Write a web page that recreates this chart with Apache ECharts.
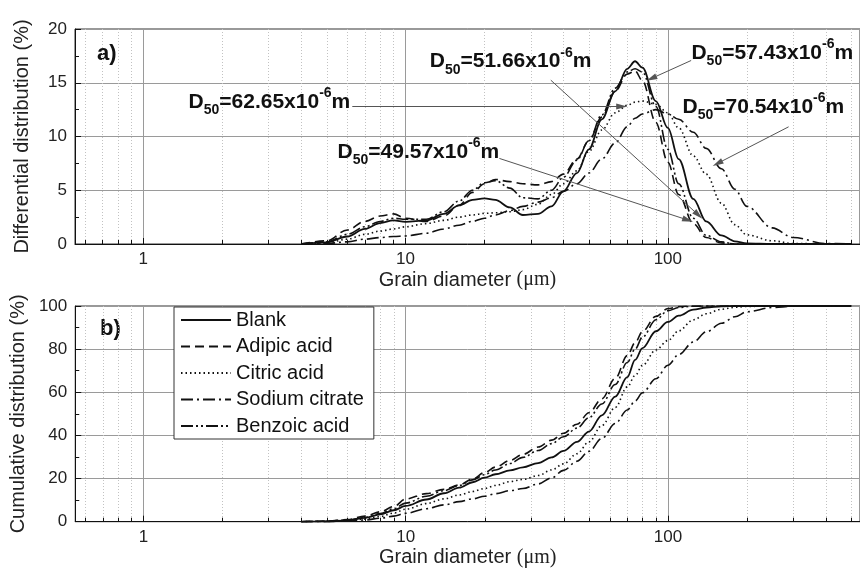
<!DOCTYPE html>
<html>
<head>
<meta charset="utf-8">
<script src="https://cdn.jsdelivr.net/npm/echarts@6/dist/echarts.min.js"></script>
<style>
html,body{margin:0;padding:0;background:#fff;}
#chart{width:860px;height:569px;}
</style>
</head>
<body>
<div id="chart"></div>
<script>
// ---------- DATA ----------
const seriesNames = ['Blank', 'Adipic acid', 'Citric acid', 'Sodium citrate', 'Benzoic acid'];

const diameters = [4,5,6,7,8,9,10, 12,14,16,18,20,22,25,28, 32,36,40,45,50,56,63,70, 75,80,90,100,110,125,140,160, 180,200,250,300,400,500];

// Differential distribution (%)
const blankDiff   = [0,0.15,0.7,1.4,1.95,2.2,2.05, 2.2,2.8,3.6,4.1,4.25,4.1,3.4,2.7, 2.8,3.5,4.9,6.6,8.8,11.6,14.2,16.3, 17.0,16.4,13.3,10.8,7.9,4.2,2.1,0.8, 0.25,0.05,0,0,0,0];
const adipicDiff  = [0,0.3,1.3,2.1,2.6,2.8,2.4, 2.1,2.6,3.6,4.8,5.6,6.0,5.8,5.6, 5.5,5.8,6.5,7.9,9.6,11.8,14.2,15.8, 16.1,15.2,11.3,7.6,4.6,1.9,0.6,0.1, 0,0,0,0,0,0];
const citricDiff  = [0,0.1,0.45,0.9,1.2,1.4,1.6, 1.9,2.2,2.5,2.7,2.85,2.9,3.0,3.2, 3.7,4.6,5.6,6.8,8.6,10.6,12.2,12.9, 13.2,13.3,13.0,12.2,10.8,8.2,6.5,3.8, 1.8,0.85,0.3,0.05,0,0];
const sodiumDiff  = [0,0.05,0.2,0.45,0.6,0.7,0.75, 1.0,1.4,1.75,2.1,2.4,2.7,3.1,3.5, 3.9,4.3,4.9,5.6,6.6,7.9,9.4,10.9, 11.7,12.1,12.5,12.1,11.6,10.4,8.9,7.0, 5.1,3.5,1.5,0.6,0.05,0];
const benzoicDiff = [0,0.2,0.9,1.6,2.1,2.4,2.3, 2.3,3.0,4.0,5.0,5.7,5.9,5.2,4.3, 4.2,5.0,6.2,7.8,9.6,12.0,14.5,16.0, 16.3,16.0,12.8,8.8,5.6,2.4,0.8,0.2, 0,0,0,0,0,0];

// Cumulative distribution (%)
const blankCum   = [0,0.1,0.6,1.8,3.4,5.3,7.3, 10.3,13.2,15.8,18.3,20.4,22.0,23.8,25.2, 27.2,29.8,32.8,37.0,41.8,49.3,58.0,67.0, 75.0,80.5,88.3,92.6,95.5,98.3,99.3,99.8, 100,100,100,100,100,100];
const adipicCum  = [0,0.3,1.0,2.6,4.6,7.0,10.5, 13.0,15.0,17.0,19.8,22.8,25.3,28.4,31.2, 34.6,37.8,41.0,45.2,50.5,57.0,66.5,77.0, 83.0,88.2,95.2,98.8,99.7,100,100,100, 100,100,100,100,100,100];
const citricCum  = [0,0.1,0.4,1.2,2.4,4.0,5.8, 8.4,10.6,12.4,14.0,15.4,16.8,18.6,19.6, 21.4,24.0,26.8,31.5,37.0,44.6,53.0,62.5, 67.8,72.5,79.6,84.0,88.5,93.6,96.4,98.5, 99.4,99.8,100,100,100,100];
const sodiumCum  = [0,0.05,0.3,0.8,1.6,2.6,3.9, 6.0,7.8,9.3,10.6,11.8,13.0,14.4,15.4, 17.5,20.3,23.8,28.0,32.6,38.6,45.5,51.8, 56.0,59.8,66.3,72.5,77.5,83.3,88.0,92.0, 95.0,97.3,99.3,99.9,100,100];
const benzoicCum = [0,0.2,0.8,2.0,3.8,6.0,8.6, 11.8,14.4,16.8,19.4,21.8,24.0,27.0,29.8, 33.0,36.2,39.4,43.4,48.2,54.6,63.6,73.8, 80.0,85.6,93.6,97.8,99.3,99.9,100,100, 100,100,100,100,100,100];

// Axis ticks
const xMajorTicks = [1, 10, 100];
const xMinorTicks = [0.6,0.7,0.8,0.9, 2,3,4,5,6,7,8,9, 20,30,40,50,60,70,80,90, 200,300,400,500];
const diffTicks = [0, 5, 10, 15, 20];
const cumTicks = [0, 20, 40, 60, 80, 100];

// D50 annotations (values in data units of panel a)
const d50Values = ['62.65', '51.66', '57.43', '70.54', '49.57'];
const d50LabelAt = [[1.49, 13.2], [12.37, 16.96], [123, 17.75], [113.7, 12.73], [5.51, 8.55]];
const d50ArrowFrom = [[6.27, 12.78], [35.8, 15.24], [122.7, 17.07], [288.6, 10.9], [22.8, 7.96]];
const d50ArrowTo = [[66.7, 12.8], [130.7, 2.7], [86.6, 15.4], [154.7, 7.5], [119.1, 2.23]];

// ---------- CHART ----------
const FONT = '"Liberation Sans", Arial, Helvetica, sans-serif';
const diffSets = [blankDiff, adipicDiff, citricDiff, sodiumDiff, benzoicDiff];
const cumSets = [blankCum, adipicCum, citricCum, sodiumCum, benzoicCum];
const lineTypes = ['solid', [9, 5], [1.5, 3], [12, 4, 2, 4], [12, 3, 2, 3, 2, 3]];
const lineWidths = [1.8, 1.6, 1.6, 1.6, 1.6];

const pairs = arr => diameters.map((d, i) => [d, arr[i]]);

function makeXAxis(gi) {
  return {
    type: 'log', logBase: 10, gridIndex: gi, min: 0.55, max: 540,
    axisLine: { show: true, lineStyle: { color: '#111', width: 1 } },
    axisTick: { show: true, inside: true, length: 6, lineStyle: { color: '#111' } },
    axisLabel: { fontSize: 17, color: '#222', margin: 7, fontFamily: FONT,
      showMinLabel: false, showMaxLabel: false,
      formatter: v => (xMajorTicks.indexOf(Math.round(v)) >= 0 ? String(Math.round(v)) : '') },
    splitLine: { show: true, lineStyle: { color: '#9a9a9a', width: 1 } },
    name: 'Grain diameter {u|(μm)}', nameLocation: 'middle', nameGap: 26,
    nameTextStyle: { fontSize: 20, color: '#222', fontFamily: FONT,
      rich: { u: { fontSize: 20, color: '#222', fontFamily: '"Liberation Serif", "Times New Roman", serif' } } }
  };
}
function makeYAxis(gi, ticks, name, gap) {
  return {
    type: 'value', gridIndex: gi, min: ticks[0], max: ticks[ticks.length - 1],
    interval: ticks[1] - ticks[0],
    axisLine: { show: true, lineStyle: { color: '#111', width: 1 } },
    axisTick: { show: true, inside: true, length: 6, lineStyle: { color: '#111' } },
    minorTick: { show: true, splitNumber: 2, length: 4, lineStyle: { color: '#111' } },
    axisLabel: { fontSize: 17, color: '#222', margin: 8, fontFamily: FONT },
    splitLine: { show: true, lineStyle: { color: '#9a9a9a', width: 1 } },
    name: name, nameLocation: 'middle', nameGap: gap,
    nameTextStyle: { fontSize: 20, color: '#222', fontFamily: FONT }
  };
}
function minorGridSeries(gi) {
  return {
    type: 'custom', xAxisIndex: gi, yAxisIndex: gi, silent: true, z: 1,
    data: xMinorTicks.map(v => [v, 0]),
    renderItem: (params, api) => {
      const p = api.coord([api.value(0), 0]);
      const cs = params.coordSys;
      const x = Math.round(p[0]) + 0.5;
      const yb = cs.y + cs.height;
      return { type: 'group', children: [
        { type: 'line', shape: { x1: x, y1: cs.y, x2: x, y2: yb },
          style: { stroke: '#c2c2c2', lineWidth: 1, lineDash: [1, 2] } },
        { type: 'line', shape: { x1: x, y1: yb, x2: x, y2: yb - 4 },
          style: { stroke: '#111', lineWidth: 1 } }
      ] };
    }
  };
}

const series = [minorGridSeries(0), minorGridSeries(1)];
seriesNames.forEach((name, k) => {
  const base = {
    type: 'line', name: name, symbol: 'none', smooth: 0.35, smoothMonotone: 'x',
    lineStyle: { color: '#111', width: lineWidths[k], type: lineTypes[k] },
    itemStyle: { color: '#111' }, z: 3, silent: true
  };
  const top = Object.assign({}, base, { xAxisIndex: 0, yAxisIndex: 0, data: pairs(diffSets[k]) });
  if (k === 0) {
    top.markLine = {
      silent: true, symbol: ['none', 'triangle'], symbolSize: [6, 11],
      lineStyle: { color: '#555', width: 1, type: 'solid' },
      itemStyle: { color: '#222' },
      label: { show: false },
      emphasis: { disabled: true },
      data: d50ArrowFrom.map((f, i) => [{ coord: f }, { coord: d50ArrowTo[i] }])
    };
    top.markPoint = {
      silent: true, symbol: 'circle', symbolSize: 0,
      itemStyle: { color: 'rgba(0,0,0,0)' },
      label: {
        show: true, position: 'right', distance: 0,
        formatter: p => '{b|D}{s|50}{b|=' + p.name + 'x10}{u|-6}{b|m}',
        rich: {
          b: { fontSize: 21, fontWeight: 'bold', color: '#111', fontFamily: FONT },
          s: { fontSize: 14, fontWeight: 'bold', color: '#111', fontFamily: FONT, padding: [16, 0, 0, 0] },
          u: { fontSize: 14, fontWeight: 'bold', color: '#111', fontFamily: FONT, padding: [0, 0, 18, 0] }
        }
      },
      data: d50Values.map((v, i) => ({ name: v, coord: d50LabelAt[i] }))
    };
  }
  series.push(top);
  series.push(Object.assign({}, base, { xAxisIndex: 1, yAxisIndex: 1, data: pairs(cumSets[k]) }));
});

const option = {
  animation: false,
  backgroundColor: '#fff',
  textStyle: { fontFamily: FONT },
  grid: [
    { left: 75, top: 29, width: 791.7, height: 215, show: true, borderColor: '#333', borderWidth: 1 },
    { left: 72.5, top: 306, width: 790.8, height: 215.7, show: true, borderColor: '#333', borderWidth: 1 }
  ],
  xAxis: [makeXAxis(0), makeXAxis(1)],
  yAxis: [
    makeYAxis(0, diffTicks, 'Differential distribution (%)', 43),
    makeYAxis(1, cumTicks, 'Cumulative distribution (%)', 40)
  ],
  legend: {
    show: true, orient: 'vertical', left: 174, top: 307,
    itemWidth: 50, itemHeight: 14, itemGap: 6.5,
    padding: [3, 10, 3, 6],
    borderColor: '#333', borderWidth: 1, backgroundColor: '#fff',
    selectedMode: false,
    itemStyle: { opacity: 0, color: 'rgba(0,0,0,0)', borderWidth: 0 },
    textStyle: { fontSize: 20, color: '#111', fontFamily: FONT },
    data: seriesNames
  },
  graphic: [
    { type: 'text', left: 97, top: 43, style: { text: 'a)', font: 'bold 22px "Liberation Sans", Arial, sans-serif', fill: '#111' } },
    { type: 'text', left: 100, top: 318, style: { text: 'b)', font: 'bold 22px "Liberation Sans", Arial, sans-serif', fill: '#111' } }
  ],
  series: series
};

const chart = echarts.init(document.getElementById('chart'), null, { renderer: 'canvas' });
chart.setOption(option);
</script>
</body>
</html>
